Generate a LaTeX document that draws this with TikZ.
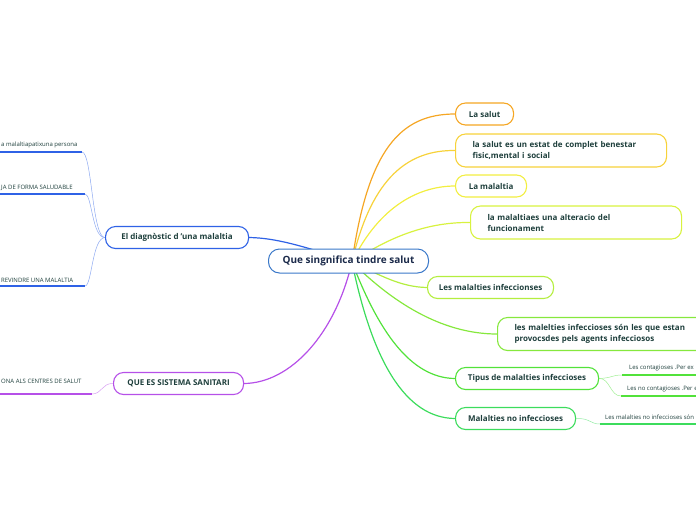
\documentclass[tikz,border=0pt]{standalone}
\usepackage{fontspec}
\setmainfont{Open Sans}
\usepackage{tikz}
\usetikzlibrary{backgrounds}

\definecolor{ink}{HTML}{1E3F3C}
\definecolor{navy}{HTML}{1B2A4A}
\definecolor{hubblue}{HTML}{3A78C9}
\definecolor{cOrange}{HTML}{F5A623}
\definecolor{cYellowA}{HTML}{F7D23A}
\definecolor{cYellowB}{HTML}{F2EE40}
\definecolor{cLime}{HTML}{D8F23F}
\definecolor{cGreenA}{HTML}{B4EE3F}
\definecolor{cGreenB}{HTML}{86E83D}
\definecolor{cGreenC}{HTML}{52E23A}
\definecolor{cGreenD}{HTML}{3CDC5C}
\definecolor{cBlue}{HTML}{2F62E6}
\definecolor{cPurple}{HTML}{B650E8}

\begin{document}
\begin{tikzpicture}[x=1pt, y=-1pt,
  topic/.style={draw, line width=1.1pt, rounded corners=10pt, fill=white, text=ink,
    font=\bfseries\fontsize{8}{11}\selectfont, align=left, anchor=west,
    minimum height=22pt, inner xsep=8pt},
  wide/.style={minimum height=33pt, inner xsep=17pt},
  hub/.style={draw=hubblue, line width=1pt, rounded corners=11pt, fill=white, text=navy,
    font=\bfseries\fontsize{10}{12}\selectfont, anchor=west, minimum height=24pt},
  leaf/.style={text=ink, font=\fontsize{6}{7}\selectfont, inner sep=1pt},
  branch/.style={line width=1.2pt},
  twig/.style={line width=0.5pt},
  underl/.style={line width=1.6pt}
]
  \useasboundingbox (0,0) rectangle (696,520);
  \clip (0,0) rectangle (696,520);

  % central topic
  \node[hub, minimum width=160pt] (main) at (268,261) {Que singnifica tindre salut};
  \coordinate (hc) at (352,262);

  % right side
  \node[topic, draw=cOrange,  minimum width=58pt]  (salut)     at (455,114)   {La salut};
  \node[topic, wide, draw=cYellowA, text width=177pt] (estat) at (455,150.5)
    {la salut es un estat de complet benestar\\fisic,mental i social};
  \node[topic, draw=cYellowB, minimum width=71pt]  (malaltia)  at (455,186)   {La malaltia};
  \node[topic, wide, draw=cLime, text width=177pt] (alteracio) at (470,222.5)
    {la malaltiaes una alteracio del\\funcionament};
  \node[topic, draw=cGreenA,  minimum width=126pt] (infec)     at (427,287.5) {Les malalties infeccionses};
  \node[topic, wide, draw=cGreenB, text width=178pt] (agents) at (497,334)
    {les malelties infeccioses són les que estan\\provocsdes pels agents infecciosos};
  \node[topic, draw=cGreenC,  minimum width=143pt] (tipus)     at (455,378.5) {Tipus de malalties infeccioses};
  \node[topic, draw=cGreenD,  minimum width=120pt] (noinfec)   at (455,418.5) {Malalties no infeccioses};

  % left side
  \node[topic, draw=cBlue,   minimum width=143pt] (diag)    at (105,237.5) {El diagnòstic d 'una malaltia};
  \node[topic, draw=cPurple, minimum width=130pt] (sanitari) at (113,383.5) {QUE ES SISTEMA SANITARI};

  % leaves
  \node[leaf, anchor=south west] (pers)  at (0,149.5) {a malaltiapatixuna persona};
  \coordinate (persE) at (82,152);
  \node[leaf, anchor=south west] (salud) at (0,191.5) {JA DE FORMA SALUDABLE};
  \coordinate (saludE) at (85,194);
  \node[leaf, anchor=south west] (prev)  at (0,283.5) {REVINDRE UNA MALALTIA};
  \coordinate (prevE) at (85,286);
  \node[leaf, anchor=south west] (centr) at (0,385) {ONA ALS CENTRES DE SALUT};
  \coordinate (centrE) at (92,394);

  \node[leaf, anchor=south west] (cont)   at (628,372.5) {Les contagioses .Per ex};
  \coordinate (contW) at (622,375);
  \node[leaf, anchor=south west] (nocont) at (626,393) {Les no contagioses .Per e};
  \coordinate (nocontW) at (621,396);
  \node[leaf, anchor=south west] (nosn)   at (604,421) {Les malalties no infeccioses són};
  \coordinate (nosnW) at (600,424);

  \begin{scope}[on background layer]
    \draw[branch, cOrange]  (hc) .. controls (368,150) and (400,114) .. (salut.west);
    \draw[branch, cYellowA] (hc) .. controls (372,175) and (410,150) .. (estat.west);
    \draw[branch, cYellowB] (hc) .. controls (380,205) and (420,186) .. (malaltia.west);
    \draw[branch, cLime]    (hc) .. controls (392,235) and (430,222) .. (alteracio.west);
    \draw[branch, cGreenA]  (hc) .. controls (380,275) and (400,287) .. (infec.west);
    \draw[branch, cGreenB]  (hc) .. controls (390,300) and (440,334) .. (agents.west);
    \draw[branch, cGreenC]  (hc) .. controls (378,330) and (410,378) .. (tipus.west);
    \draw[branch, cGreenD]  (hc) .. controls (372,360) and (405,418) .. (noinfec.west);
    \draw[branch, cBlue]    (hc) .. controls (300,245) and (275,238) .. (diag.east);
    \draw[branch, cPurple]  (hc) .. controls (335,335) and (290,383) .. (sanitari.east);

    % twigs
    \draw[twig, cBlue!55]   (diag.west) .. controls (92,238) and (92,152) .. (persE);
    \draw[twig, cBlue!55]   (diag.west) .. controls (92,238) and (92,194) .. (saludE);
    \draw[twig, cBlue!55]   (diag.west) .. controls (92,238) and (92,286) .. (prevE);
    \draw[twig, cPurple!55] (sanitari.west) .. controls (102,383) and (102,394) .. (centrE);
    \draw[twig, cGreenC!55] (tipus.east) .. controls (612,378) and (612,375) .. (contW);
    \draw[twig, cGreenC!55] (tipus.east) .. controls (610,378) and (610,396) .. (nocontW);
    \draw[twig, cGreenD!55] (noinfec.east) .. controls (590,418) and (590,424) .. (nosnW);
  \end{scope}

  % underlines
  \draw[underl, cBlue]   (pers.south west |- persE) -- (persE);
  \draw[underl, cBlue]   (salud.south west |- saludE) -- (saludE);
  \draw[underl, cBlue]   (prev.south west |- prevE) -- (prevE);
  \draw[underl, cPurple] (centr.south west |- centrE) -- (centrE);
  \draw[underl, cGreenC] (contW) -- (contW -| 700,0);
  \draw[underl, cGreenC] (nocontW) -- (nocontW -| 700,0);
  \draw[underl, cGreenD] (nosnW) -- (nosnW -| 700,0);
\end{tikzpicture}
\end{document}
